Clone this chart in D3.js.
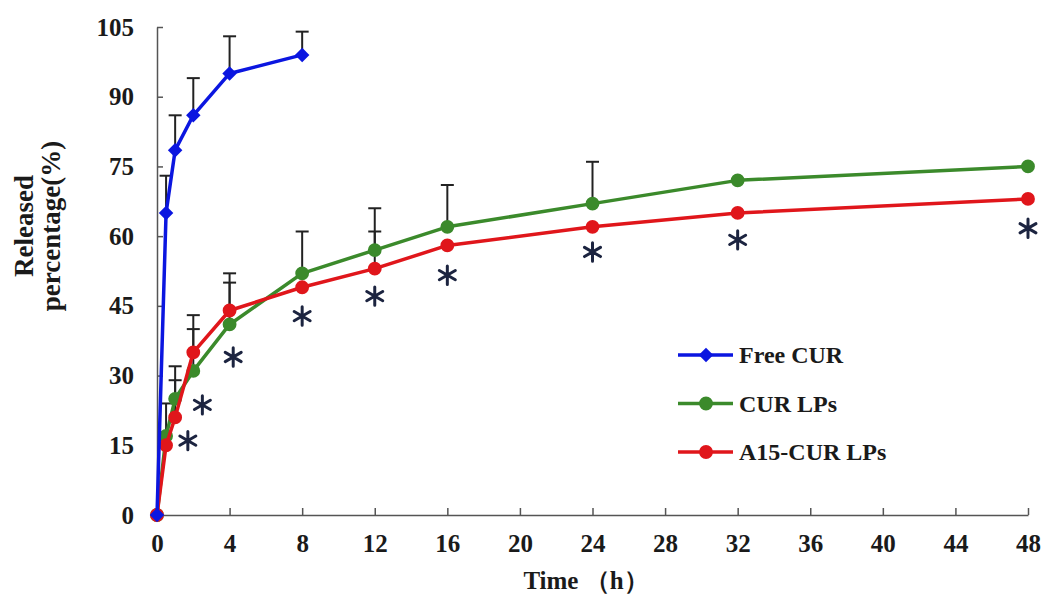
<!DOCTYPE html>
<html>
  <head>
    <meta charset="utf-8">
    <title>Release profile</title>
    <script src="https://d3js.org/d3.v7.min.js"></script>
    <style>
      body { margin: 0; background: #fff; }
      text { font-family: "Liberation Serif", "Times New Roman", serif; font-weight: bold; fill: #1a1a1a; }
    </style>
  </head>
  <body>
    <svg width="1044" height="595" id="chart"></svg>

  <script type="text/javascript">

    // time points (h)
    var freeTime = [0, 0.5, 1, 2, 4, 8];
    var lpTime = [0, 0.5, 1, 2, 4, 8, 12, 16, 24, 32, 48];

    // released percentage (%) and upper error (SD)
    var freeCur = [0, 65, 78.5, 86, 95, 99];
    var freeCurSd = [0, 8, 7.5, 8, 8, 5];
    var curLps = [0, 17, 25, 31, 41, 52, 57, 62, 67, 72, 75];
    var curLpsSd = [0, 7, 7, 9, 9, 9, 9, 9, 9, 0, 0];
    var a15Lps = [0, 15, 21, 35, 44, 49, 53, 58, 62, 65, 68];
    var a15LpsSd = [0, 0, 8, 8, 8, 0, 8, 0, 0, 0, 0];

    // significance marks (*)
    var starTime = [1.7, 2.5, 4.2, 8, 12, 16, 24, 32, 48];
    var starValue = [16, 23.7, 34, 42.8, 47.1, 51.6, 56.6, 59.2, 61.7];

    var xTicks = [0, 4, 8, 12, 16, 20, 24, 28, 32, 36, 40, 44, 48];
    var yTicks = [0, 15, 30, 45, 60, 75, 90, 105];

    var seriesNames = ["Free CUR", "CUR LPs", "A15-CUR LPs"];
    var seriesColors = ["#0b16e0", "#3b8a2b", "#e0161b"];

    var svg = d3.select("#chart");

    var x = d3.scaleLinear().domain([0, 48]).range([157, 1028]);
    var y = d3.scaleLinear().domain([0, 105]).range([515, 27]);

    var axisColor = "#555";

    // axes
    var xAxis = d3.axisBottom(x).tickValues(xTicks).tickSizeInner(-7).tickSizeOuter(0).tickPadding(19);
    var gx = svg.append("g").attr("transform", "translate(0," + y(0) + ")").call(xAxis);
    var yAxis = d3.axisLeft(y).tickValues(yTicks).tickSizeInner(-6).tickSizeOuter(0).tickPadding(23);
    var gy = svg.append("g").attr("transform", "translate(" + x(0) + ",0)").call(yAxis);

    [gx, gy].forEach(function(g) {
        g.select(".domain").attr("stroke", axisColor).attr("stroke-width", 1.5);
        g.selectAll(".tick line").attr("stroke", axisColor).attr("stroke-width", 1.5);
        g.selectAll(".tick text")
            .attr("fill", "#1a1a1a")
            .style("font-family", '"Liberation Serif", serif')
            .style("font-weight", "bold")
            .style("font-size", "25px");
    });
    gx.selectAll(".tick text").attr("dy", "0.71em");

    // axis titles
    svg.append("text")
        .attr("x", 586).attr("y", 589)
        .attr("text-anchor", "middle")
        .style("font-size", "25px")
        .text("Time （h）");

    svg.append("text")
        .attr("transform", "translate(33,226) rotate(-90)")
        .attr("text-anchor", "middle")
        .style("font-size", "27px")
        .text("Released");
    svg.append("text")
        .attr("transform", "translate(60,226) rotate(-90)")
        .attr("text-anchor", "middle")
        .style("font-size", "27px")
        .text("percentage(%)");

    var series = [
        { name: seriesNames[0], color: seriesColors[0], t: freeTime, v: freeCur, sd: freeCurSd, shape: "diamond" },
        { name: seriesNames[1], color: seriesColors[1], t: lpTime, v: curLps, sd: curLpsSd, shape: "circle" },
        { name: seriesNames[2], color: seriesColors[2], t: lpTime, v: a15Lps, sd: a15LpsSd, shape: "circle" }
    ];

    // error bars (upper only), drawn under the lines
    var capHalf = 6.5;
    series.forEach(function(s) {
        var pts = s.t.map(function(t, i) { return { t: t, v: s.v[i], sd: s.sd[i] }; })
            .filter(function(d) { return d.sd > 0; });
        var g = svg.append("g").attr("stroke", "#222").attr("stroke-width", 2);
        g.selectAll("line.bar").data(pts).enter().append("line")
            .attr("x1", function(d) { return x(d.t); })
            .attr("x2", function(d) { return x(d.t); })
            .attr("y1", function(d) { return y(d.v); })
            .attr("y2", function(d) { return y(d.v + d.sd); });
        g.selectAll("line.cap").data(pts).enter().append("line")
            .attr("x1", function(d) { return x(d.t) - capHalf; })
            .attr("x2", function(d) { return x(d.t) + capHalf; })
            .attr("y1", function(d) { return y(d.v + d.sd); })
            .attr("y2", function(d) { return y(d.v + d.sd); });
    });

    var line = d3.line()
        .x(function(d) { return x(d.t); })
        .y(function(d) { return y(d.v); });

    function marker(shape) {
        return shape === "diamond"
            ? d3.symbol().type(d3.symbolSquare).size(105)
            : d3.symbol().type(d3.symbolCircle).size(150);
    }
    function markerRot(shape) { return shape === "diamond" ? " rotate(45)" : ""; }

    // green under red, blue on top
    [series[1], series[2], series[0]].forEach(function(s) {
        var pts = s.t.map(function(t, i) { return { t: t, v: s.v[i] }; });
        svg.append("path")
            .attr("d", line(pts))
            .attr("fill", "none")
            .attr("stroke", s.color)
            .attr("stroke-width", 3.5)
            .attr("stroke-linejoin", "round");
        svg.append("g").selectAll("path").data(pts).enter().append("path")
            .attr("d", marker(s.shape))
            .attr("transform", function(d) { return "translate(" + x(d.t) + "," + y(d.v) + ")" + markerRot(s.shape); })
            .attr("fill", s.color);
    });

    // significance asterisks
    var star = d3.symbol().type(d3.symbolAsterisk).size(240);
    svg.append("g").selectAll("path")
        .data(starTime.map(function(t, i) { return { t: t, v: starValue[i] }; }))
        .enter().append("path")
        .attr("d", star)
        .attr("transform", function(d) { return "translate(" + x(d.t) + "," + y(d.v) + ")"; })
        .attr("fill", "none")
        .attr("stroke", "#1c2440")
        .attr("stroke-width", 3)
        .attr("stroke-linecap", "round");

    // legend
    var legend = svg.append("g").attr("transform", "translate(678,355)");
    series.forEach(function(s, i) {
        var g = legend.append("g").attr("transform", "translate(0," + (i * 48.5) + ")");
        g.append("line").attr("x1", 0).attr("x2", 55).attr("y1", 0).attr("y2", 0)
            .attr("stroke", s.color).attr("stroke-width", 3.5);
        g.append("path")
            .attr("d", marker(s.shape))
            .attr("transform", "translate(28,0)" + markerRot(s.shape))
            .attr("fill", s.color);
        g.append("text")
            .attr("x", 61).attr("y", 8)
            .style("font-size", "24px")
            .text(s.name);
    });

  </script>
  </body>
</html>
